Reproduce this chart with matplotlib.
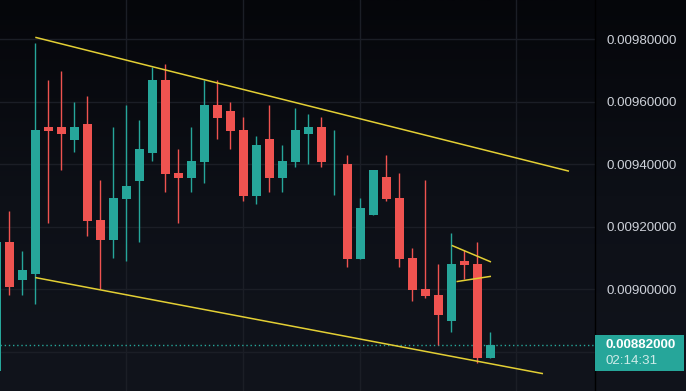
import matplotlib
matplotlib.use("Agg")
import numpy as np
import matplotlib.pyplot as plt
from matplotlib.patches import Rectangle
from matplotlib.colors import LinearSegmentedColormap

# candles, oldest first (index 0 is cut off by the left edge)
opens = [0.008739, 0.009151, 0.009030, 0.009049, 0.009520, 0.009520, 0.009479, 0.009529,
         0.009222, 0.009158, 0.009290, 0.009347, 0.009437, 0.009670, 0.009372, 0.009357,
         0.009408, 0.009590, 0.009571, 0.009510, 0.009299, 0.009481, 0.009357, 0.009408,
         0.009498, 0.009520, 0.009409, 0.009401, 0.009097, 0.009239, 0.009359, 0.009292,
         0.009100, 0.009000, 0.008981, 0.008899, 0.009090, 0.009080, 0.008780]
highs = [0.009160, 0.009250, 0.009122, 0.009789, 0.009670, 0.009699, 0.009600, 0.009619,
         0.009350, 0.009520, 0.009590, 0.009542, 0.009712, 0.009722, 0.009449, 0.009520,
         0.009670, 0.009670, 0.009600, 0.009552, 0.009491, 0.009590, 0.009462, 0.009580,
         0.009561, 0.009552, 0.009510, 0.009430, 0.009292, 0.009382, 0.009430, 0.009372,
         0.009132, 0.009350, 0.009080, 0.009180, 0.009125, 0.009151, 0.008863]
lows = [0.008720, 0.008982, 0.008982, 0.008953, 0.009213, 0.009383, 0.009440, 0.009171,
        0.008999, 0.009101, 0.009091, 0.009152, 0.009412, 0.009312, 0.009213, 0.009312,
        0.009341, 0.009482, 0.009450, 0.009283, 0.009272, 0.009312, 0.009312, 0.009392,
        0.009402, 0.009392, 0.009303, 0.009072, 0.009097, 0.009239, 0.009283, 0.009072,
        0.008963, 0.008972, 0.008820, 0.008864, 0.009033, 0.008764, 0.008780]
closes = [0.009151, 0.009008, 0.009061, 0.009510, 0.009508, 0.009498, 0.009520, 0.009219,
          0.009158, 0.009292, 0.009331, 0.009449, 0.009670, 0.009370, 0.009357, 0.009411,
          0.009590, 0.009549, 0.009508, 0.009299, 0.009462, 0.009357, 0.009411, 0.009510,
          0.009520, 0.009408, 0.009410, 0.009097, 0.009260, 0.009382, 0.009290, 0.009097,
          0.008998, 0.008979, 0.008918, 0.009080, 0.009078, 0.008780, 0.008820]

# drawn trend lines (x = candle index, y = price)
channel_top_x = [3.0, 44.05]
channel_top_y = [0.009807, 0.009378]
channel_bot_x = [3.0, 42.05]
channel_bot_y = [0.009037, 0.008729]
flag_top_x = [35.03, 38.05]
flag_top_y = [0.009140, 0.009087]
flag_bot_x = [35.4, 38.05]
flag_bot_y = [0.009024, 0.009041]

price_ticks = [0.0088, 0.0090, 0.0092, 0.0094, 0.0096, 0.0098]
time_grid = [10, 19, 28, 40]
last_price = 0.00882
countdown = "02:14:31"

UP = "#26a69a"
DOWN = "#ef5350"
LINE = "#e3cf34"
GRID = "#1b1e26"
TEXT = "#cdd1d9"
FONT = "Liberation Sans"
FS = 9.6

W, H = 686, 391
fig = plt.figure(figsize=(W / 100, H / 100), dpi=100)

# background gradient
bg = fig.add_axes([0, 0, 1, 1], zorder=-5)
cmap = LinearSegmentedColormap.from_list("bg", ["#05060a", "#0d1017", "#11141c"])
bg.imshow(np.linspace(0, 1, 256)[:, None], aspect="auto", cmap=cmap,
          extent=[0, 1, 0, 1], origin="upper")
bg.set_axis_off()

ax = fig.add_axes([0, 0, 595 / W, 1])
ax.set_facecolor("none")
for s in ax.spines.values():
    s.set_visible(False)

x = np.arange(len(opens))
o = np.array(opens)
c = np.array(closes)
colors = [UP if cc >= oo else DOWN for oo, cc in zip(o, c)]
bottoms = np.minimum(o, c)
heights = np.maximum(np.abs(c - o), 3e-6)

ax.vlines(x, lows, highs, colors=colors, linewidth=1.0, zorder=3)
ax.bar(x, heights, bottom=bottoms, width=0.69, color=colors, linewidth=0, zorder=4)

for xs, ys in [(channel_top_x, channel_top_y), (channel_bot_x, channel_bot_y),
               (flag_top_x, flag_top_y), (flag_bot_x, flag_bot_y)]:
    ax.plot(xs, ys, color=LINE, linewidth=1.1, zorder=5, solid_capstyle="butt")

ax.axhline(last_price, color=UP, linestyle=(0, (1, 2)), linewidth=1.0, zorder=2)

ax.set_xlim(0.285, 46.05)
ax.set_ylim(0.0086734, 0.0099266)

ax.set_xticks(time_grid)
ax.set_yticks(price_ticks)
# the lowest level sits under the last-price tag, so its label is hidden
ax.set_yticklabels(["" if abs(p - last_price) < 0.00005 else f"{p:.8f}"
                    for p in price_ticks])
ax.yaxis.tick_right()
ax.tick_params(axis="y", length=0, pad=8, labelsize=FS, labelcolor=TEXT)
ax.tick_params(axis="x", length=0, labelbottom=False)
for lbl in ax.get_yticklabels():
    lbl.set_fontfamily(FONT)
ax.grid(True, color=GRID, linewidth=1.0, zorder=0)
ax.set_axisbelow(True)

# separator between plot and price scale
fig.add_artist(plt.Line2D([595 / W, 595 / W], [0, 1], color="#000000", linewidth=1.0))

# last price tag
y_pix = ax.transData.transform((0, last_price))[1]
top_pix = y_pix + 10.5
box_h = 36.7
fig.add_artist(Rectangle((595 / W, (top_pix - box_h) / H), 89 / W, box_h / H,
                         transform=fig.transFigure, facecolor=UP, edgecolor="none",
                         zorder=10))
fig.text(606 / W, y_pix / H, f"{last_price:.8f}", ha="left", va="center",
         fontsize=FS, fontweight="bold", color="white", family=FONT, zorder=11)
fig.text(606 / W, (y_pix - 16) / H, countdown, ha="left", va="center",
         fontsize=FS, color="white", alpha=0.78, family=FONT, zorder=11)

fig.savefig("out.png", dpi=100, facecolor="#05060a")
